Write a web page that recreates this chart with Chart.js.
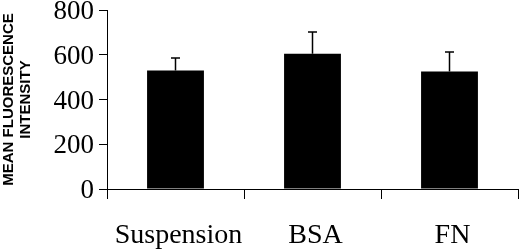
<!DOCTYPE html>
<html>
<head>
<meta charset="utf-8">
<script src="https://cdn.jsdelivr.net/npm/chart.js@4"></script>
<style>
    html, body { margin: 0; padding: 0; background: #fff; overflow: hidden; }
    canvas { display: block; }
</style>
</head>
<body>
<canvas id="chart-canvas" width="520" height="251"></canvas>
<script>
// chart data
const categories = ['Suspension', 'BSA', 'FN'];
const mean_values = [530, 605, 525];
const error_values = [55, 97, 87];
const y_ticks = [0, 200, 400, 600, 800];

// upward error bars with a small cap, drawn through the scales
const error_bars = {
    id: 'error_bars',
    afterDatasetsDraw(chart) {
        let ctx = chart.ctx;
        let x_scale = chart.scales.x;
        let y_scale = chart.scales.y;

        ctx.save();
        ctx.strokeStyle = '#000';
        ctx.lineWidth = 1.5;

        for (let i = 0; i < mean_values.length; i++) {
            let x = x_scale.getPixelForValue(i);
            let y_base = y_scale.getPixelForValue(mean_values[i]);
            let y_top = y_scale.getPixelForValue(mean_values[i] + error_values[i]);

            ctx.beginPath();
            ctx.moveTo(x, y_base);
            ctx.lineTo(x, y_top);
            ctx.moveTo(x - 4.5, y_top);
            ctx.lineTo(x + 4.5, y_top);
            ctx.stroke();
        }
        ctx.restore();
    }
};

let chart1 = new Chart(document.getElementById('chart-canvas'), {
    type: 'bar',
    data: {
        labels: categories,
        datasets: [{
            data: mean_values,
            backgroundColor: '#000',
            borderWidth: 0,
            categoryPercentage: 1,
            barPercentage: 0.415
        }]
    },
    options: {
        responsive: false,
        animation: false,
        events: [],
        layout: { padding: { left: 0, right: 2, top: 10, bottom: 0 } },
        plugins: {
            legend: { display: false },
            tooltip: { enabled: false }
        },
        scales: {
            x: {
                afterFit(axis) {
                    axis.height = 62;
                },
                grid: {
                    display: true,
                    drawOnChartArea: false,
                    drawTicks: true,
                    tickLength: 10,
                    color: '#000',
                    lineWidth: 1
                },
                border: { display: true, color: '#000', width: 1 },
                ticks: {
                    color: '#000',
                    padding: 20,
                    labelOffset: 3,
                    maxRotation: 0,
                    font: { family: 'Liberation Serif', size: 28 }
                }
            },
            y: {
                min: 0,
                max: 800,
                afterBuildTicks(axis) {
                    axis.ticks = y_ticks.map(v => ({ value: v }));
                },
                afterFit(axis) {
                    axis.width = 107;
                },
                grid: {
                    display: true,
                    drawOnChartArea: false,
                    drawTicks: true,
                    tickLength: 8,
                    color: '#000',
                    lineWidth: 1
                },
                border: { display: true, color: '#000', width: 1 },
                ticks: {
                    color: '#000',
                    padding: 5,
                    labelOffset: 2,
                    font: { family: 'Liberation Serif', size: 27, lineHeight: 0.3 }
                },
                title: {
                    display: true,
                    text: ['MEAN FLUORESCENCE', 'INTENSITY'],
                    color: '#000',
                    padding: { top: 0, bottom: 0 },
                    font: { family: 'Liberation Sans', size: 15, weight: 'bold', lineHeight: 1.15 }
                }
            }
        }
    },
    plugins: [error_bars]
});
</script>
</body>
</html>
